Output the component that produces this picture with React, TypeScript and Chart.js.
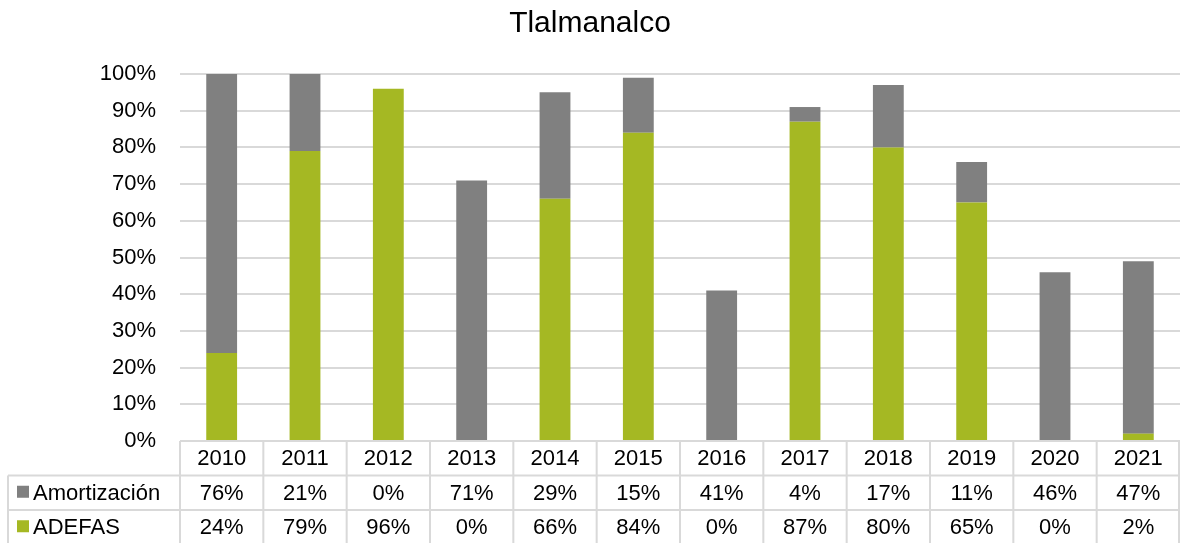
import React, { useEffect, useRef } from "react";
import { Chart, registerables } from "chart.js";

Chart.register(...registerables);

const title = "Tlalmanalco";
const years = ["2010", "2011", "2012", "2013", "2014", "2015", "2016", "2017", "2018", "2019", "2020", "2021"];
const adefas = [24, 79, 96, 0, 66, 84, 0, 87, 80, 65, 0, 2];
const amortizacion = [76, 21, 0, 71, 29, 15, 41, 4, 17, 11, 46, 47];
const seriesNames = ["Amortización", "ADEFAS"];
const seriesColors = ["#808080", "#A5B823"];

const FONT = "Arial, 'Liberation Sans', sans-serif";
const GRID = "#d9d9d9";

const tablePlugin = {
  id: "dataTable",
  afterDraw(chart: any) {
    const { ctx, chartArea } = chart;
    const xs = chart.scales.x;
    const left = chartArea.left;
    const right = chartArea.right;
    const top = chartArea.bottom;
    const rowH = 34.5;
    const r1 = top + rowH;
    const r2 = r1 + rowH;
    const bottom = chart.height + 5;
    const colW = (right - left) / years.length;
    ctx.save();
    ctx.strokeStyle = GRID;
    ctx.lineWidth = 2;
    ctx.beginPath();
    ctx.moveTo(left, top); ctx.lineTo(right - 1, top);
    ctx.moveTo(8, r1); ctx.lineTo(right - 1, r1);
    ctx.moveTo(8, r2); ctx.lineTo(right - 1, r2);
    for (let i = 0; i <= years.length; i++) {
      const x = Math.min(left + i * colW, right - 1);
      ctx.moveTo(x, top); ctx.lineTo(x, bottom);
    }
    ctx.moveTo(8, r1); ctx.lineTo(8, bottom);
    ctx.stroke();

    ctx.fillStyle = "#000";
    ctx.font = `22px ${FONT}`;
    ctx.textAlign = "center";
    ctx.textBaseline = "middle";
    const rows = [amortizacion, adefas];
    years.forEach((y, i) => {
      const cx = xs.getPixelForValue(i);
      ctx.fillText(y, cx, (top + r1) / 2 + 1);
      ctx.fillText(rows[0][i] + "%", cx, (r1 + r2) / 2 + 1);
      ctx.fillText(rows[1][i] + "%", cx, r2 + rowH / 2 + 1);
    });
    ctx.textAlign = "left";
    const rowMids = [(r1 + r2) / 2, r2 + rowH / 2];
    seriesNames.forEach((name, k) => {
      ctx.fillStyle = seriesColors[k];
      ctx.fillRect(17, rowMids[k] - 7, 12, 12);
      ctx.fillStyle = "#000";
      ctx.fillText(name, 33, rowMids[k] + 1);
    });
    ctx.restore();
  },
};

export default function App() {
  const ref = useRef<HTMLCanvasElement>(null);
  useEffect(() => {
    document.body.style.margin = "0";
    const chart = new Chart(ref.current!, {
      type: "bar",
      data: {
        labels: years,
        datasets: [
          {
            label: seriesNames[1],
            data: adefas,
            backgroundColor: seriesColors[1],
            barPercentage: 0.37,
            categoryPercentage: 1,
          },
          {
            label: seriesNames[0],
            data: amortizacion,
            backgroundColor: seriesColors[0],
            barPercentage: 0.37,
            categoryPercentage: 1,
          },
        ],
      },
      options: {
        animation: false,
        responsive: false,
        maintainAspectRatio: false,
        layout: { padding: { top: 0, bottom: 102, left: 0, right: 0 } },
        plugins: {
          legend: { display: false },
          tooltip: { enabled: false },
          title: {
            display: true,
            text: title,
            color: "#000",
            font: { family: FONT, size: 30, weight: "normal" },
            padding: { top: 6, bottom: 32 },
          },
        },
        scales: {
          x: {
            stacked: true,
            display: false,
          },
          y: {
            stacked: true,
            min: 0,
            max: 100,
            afterFit: (s: any) => { s.width = 180; },
            border: { display: false },
            grid: { color: GRID, lineWidth: 2, drawTicks: false },
            ticks: {
              stepSize: 10,
              padding: 24,
              color: "#000",
              font: { family: FONT, size: 22 },
              callback: (v: any) => v + "%",
            },
          },
        },
      },
      plugins: [tablePlugin],
    });
    return () => chart.destroy();
  }, []);
  return (
    <div style={{ width: 1180, height: 543 }}>
      <canvas ref={ref} width={1180} height={543} style={{ display: "block" }} />
    </div>
  );
}
